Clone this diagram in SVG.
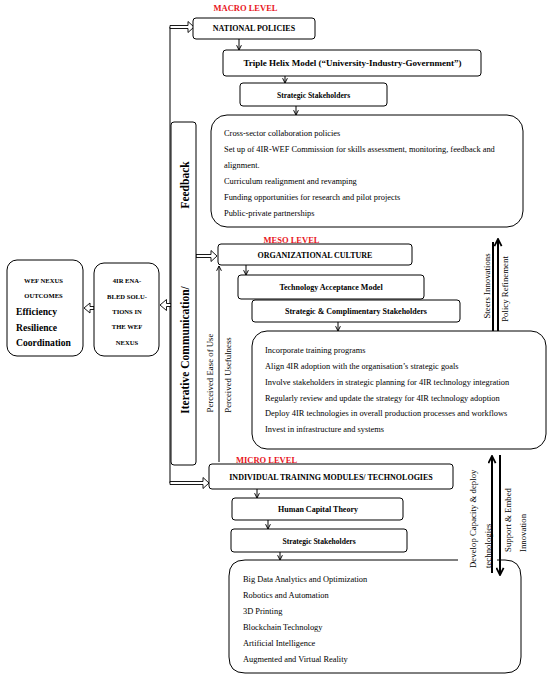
<svg xmlns="http://www.w3.org/2000/svg" width="550" height="676" viewBox="0 0 550 676">
<defs>
<style>
.bx{fill:#fff;stroke:#000;stroke-width:1}
.ln{fill:none;stroke:#000;stroke-width:1}
.tk{fill:none;stroke:#000;stroke-width:2}
.ha{fill:#fff;stroke:#000;stroke-width:0.9}
text{font-family:"Liberation Serif","Times New Roman",serif;fill:#000}
.t{font-weight:bold;font-size:8px;text-anchor:middle}
.b{font-size:8.4px}
.red{font-weight:bold;font-size:8.5px;fill:#e8141c;text-anchor:middle}
.s{font-size:8.8px}
.l{font-weight:bold;font-size:6.6px;text-anchor:middle}
.o{font-weight:bold;font-size:9.6px}
.bar{font-weight:bold;font-size:11.5px;text-anchor:middle}
</style>
<marker id="ah" viewBox="0 0 10 10" refX="9" refY="5" markerWidth="6" markerHeight="6" markerUnits="userSpaceOnUse" orient="auto">
<path d="M1,1 L9,5 L1,9" fill="none" stroke="#000" stroke-width="1.6"/>
</marker>
<marker id="big" viewBox="0 0 10 10" refX="9" refY="5" markerWidth="9" markerHeight="9" markerUnits="userSpaceOnUse" orient="auto">
<path d="M1,1 L9,5 L1,9" fill="none" stroke="#000" stroke-width="2"/>
</marker>
</defs>
<rect width="550" height="676" fill="#fff"/>

<text class="red" x="245.5" y="11">MACRO LEVEL</text>
<text class="red" x="291.5" y="242.5">MESO LEVEL</text>
<text class="red" x="266.5" y="463">MICRO LEVEL</text>

<g id="connectors">
<line class="ln" x1="170" y1="27" x2="170" y2="483" stroke-width="1.3"/>
<path class="ha" d="M170,25.5 H188 V21.5 L194,27 L188,32.5 V28.5 H170 Z"/>
<path class="ha" d="M196,254.5 H211 V250.5 L217,256 L211,261.5 V257.5 H196 Z"/>
<path class="ha" d="M170,481.5 H203 V477.5 L209,483 L203,488.5 V484.5 H170 Z"/>
<path class="ha" d="M171,303.5 H166.5 V299.5 L160,305 L166.5,310.5 V306.5 H171 Z"/>
<path class="ha" d="M94,306.5 H90 V303 L84,308 L90,313 V309.5 H94 Z"/>
<line class="ln" x1="239" y1="39" x2="239" y2="50" marker-end="url(#ah)"/>
<line class="ln" x1="285" y1="76" x2="285" y2="83" marker-end="url(#ah)"/>
<line class="ln" x1="296" y1="106" x2="296" y2="115" marker-end="url(#ah)"/>
<line class="ln" x1="246" y1="265" x2="246" y2="275" marker-end="url(#ah)"/>
<line class="ln" x1="338" y1="322" x2="338" y2="331" marker-end="url(#ah)"/>
<line class="ln" x1="257" y1="489" x2="257" y2="498" marker-end="url(#ah)"/>
<line class="ln" x1="268" y1="520" x2="268" y2="529" marker-end="url(#ah)"/>
<line class="ln" x1="280" y1="552" x2="280" y2="560" marker-end="url(#ah)"/>
<line class="ln" x1="219" y1="462" x2="219" y2="266" marker-end="url(#ah)"/>
<line class="tk" x1="493" y1="242" x2="493" y2="345" marker-end="url(#big)"/>
<line class="tk" x1="498" y1="345" x2="498" y2="239" marker-end="url(#big)"/>
<line class="tk" x1="492" y1="573" x2="492" y2="456" marker-end="url(#big)"/>
<line class="tk" x1="500" y1="455" x2="500" y2="575" marker-end="url(#big)"/>
</g>

<g id="feedback-bar">
<rect class="bx" x="171" y="122" width="25" height="343" rx="3"/>
<text class="bar" transform="translate(189,185) rotate(-90)">Feedback</text>
<text class="bar" transform="translate(189,350) rotate(-90)">Iterative Communication/</text>
</g>

<g id="national-policies">
<rect class="bx" x="193" y="18" width="122" height="21" rx="3"/>
<text class="t" x="254" y="31">NATIONAL POLICIES</text>
</g>
<g id="triple-helix">
<rect class="bx" x="223" y="50" width="258" height="26" rx="3"/>
<text class="t" x="352.5" y="66" style="font-size:9px">Triple Helix Model (“University-Industry-Government”)</text>
</g>
<g id="macro-stakeholders">
<rect class="bx" x="240" y="83" width="147" height="23" rx="3"/>
<text class="t" x="313.5" y="97.5" style="font-size:7.6px">Strategic Stakeholders</text>
</g>
<g id="macro-actions">
<rect class="bx" x="211" y="115" width="312" height="112" rx="16"/>
<text class="b" x="224" y="136">Cross-sector collaboration policies</text>
<text class="b" x="224" y="152">Set up of 4IR-WEF Commission for skills assessment, monitoring, feedback and</text>
<text class="b" x="224" y="168">alignment.</text>
<text class="b" x="224" y="184">Curriculum realignment and revamping</text>
<text class="b" x="224" y="200">Funding opportunities for research and pilot projects</text>
<text class="b" x="224" y="216">Public-private partnerships</text>
</g>

<g id="org-culture">
<rect class="bx" x="218" y="244" width="194" height="21" rx="3"/>
<text class="t" x="315" y="257.5">ORGANIZATIONAL CULTURE</text>
</g>
<g id="tam">
<rect class="bx" x="238" y="275" width="186" height="24" rx="3"/>
<text class="t" x="331" y="290">Technology Acceptance Model</text>
</g>
<g id="meso-stakeholders">
<rect class="bx" x="252" y="300" width="208" height="22" rx="3"/>
<text class="t" x="356" y="314">Strategic &amp; Complimentary Stakeholders</text>
</g>
<g id="meso-actions">
<rect class="bx" x="252" y="331" width="294" height="118" rx="15"/>
<text class="b" x="265" y="353">Incorporate training programs</text>
<text class="b" x="265" y="369">Align 4IR adoption with the organisation’s strategic goals</text>
<text class="b" x="265" y="385">Involve stakeholders in strategic planning for 4IR technology integration</text>
<text class="b" x="265" y="400.5">Regularly review and update the strategy for 4IR technology adoption</text>
<text class="b" x="265" y="416">Deploy 4IR technologies in overall production processes and workflows</text>
<text class="b" x="265" y="432">Invest in infrastructure and systems</text>
</g>

<g id="training-modules">
<rect class="bx" x="209" y="464" width="244" height="25" rx="3"/>
<text class="t" x="331" y="479.5">INDIVIDUAL TRAINING MODULES/ TECHNOLOGIES</text>
</g>
<g id="human-capital">
<rect class="bx" x="232" y="498" width="171" height="22" rx="3"/>
<text class="t" x="318" y="512">Human Capital Theory</text>
</g>
<g id="micro-stakeholders">
<rect class="bx" x="231" y="529" width="176" height="23" rx="3"/>
<text class="t" x="319" y="543.5" style="font-size:7.6px">Strategic Stakeholders</text>
</g>
<g id="micro-technologies">
<path class="ln" d="M458,560 H245 Q229,560 229,576 V657 Q229,673 245,673 H505 Q521,673 521,657 V577 Q521,560 505,560 H497"/>
<text class="b" x="243" y="582">Big Data Analytics and Optimization</text>
<text class="b" x="243" y="598">Robotics and Automation</text>
<text class="b" x="243" y="614">3D Printing</text>
<text class="b" x="243" y="630">Blockchain Technology</text>
<text class="b" x="243" y="646">Artificial Intelligence</text>
<text class="b" x="243" y="662">Augmented and Virtual Reality</text>
</g>

<g id="labels">
<text class="s" text-anchor="middle" transform="translate(213,373) rotate(-90)">Perceived Ease of Use</text>
<text class="s" text-anchor="middle" transform="translate(231,375) rotate(-90)">Perceived Usefulness</text>
<text class="s" text-anchor="middle" transform="translate(490,286) rotate(-90)">Steers Innovations</text>
<text class="s" text-anchor="middle" transform="translate(508,289) rotate(-90)">Policy Refinement</text>
<text class="s" transform="translate(476,568) rotate(-90)">Develop Capacity &amp; deploy</text>
<text class="s" transform="translate(491,568) rotate(-90)">technologies</text>
<text class="s" transform="translate(511,552) rotate(-90)">Support &amp; Embed</text>
<text class="s" transform="translate(526,552) rotate(-90)">Innovation</text>
</g>

<g id="solutions">
<rect class="bx" x="94" y="263" width="65" height="93" rx="10"/>
<text class="l" x="127" y="282.5">4IR ENA-</text>
<text class="l" x="127" y="298.5">BLED SOLU-</text>
<text class="l" x="127" y="313.5">TIONS IN</text>
<text class="l" x="127" y="328.5">THE WEF</text>
<text class="l" x="127" y="344.5">NEXUS</text>
</g>
<g id="outcomes">
<rect class="bx" x="7" y="260" width="76" height="96" rx="10"/>
<text class="l" x="43.5" y="282.5">WEF NEXUS</text>
<text class="l" x="43.5" y="297.5">OUTCOMES</text>
<text class="o" x="16" y="315">Efficiency</text>
<text class="o" x="16" y="330.5">Resilience</text>
<text class="o" x="16" y="346">Coordination</text>
</g>
</svg>
